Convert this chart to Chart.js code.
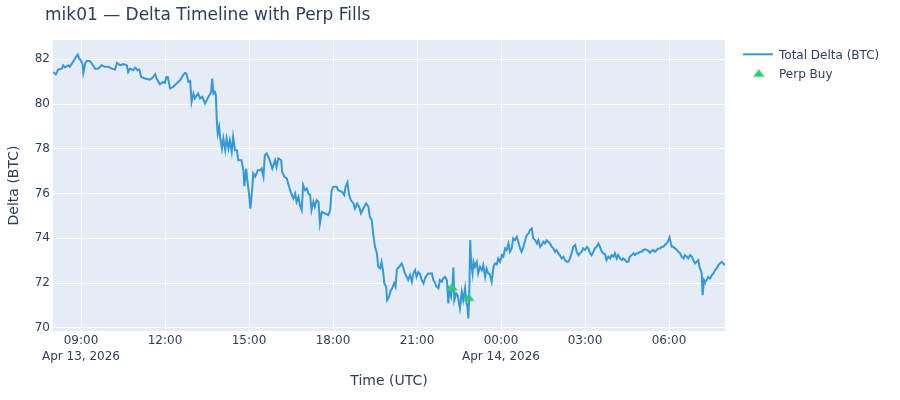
<!DOCTYPE html>
<html><head><meta charset="utf-8">
<script src="https://cdn.jsdelivr.net/npm/chart.js@4.4.1/dist/chart.umd.min.js"></script>
<style>html,body{margin:0;padding:0;background:#fff}#wrap{width:900px;height:400px}</style>
</head><body><div id="wrap"><canvas id="c" width="900" height="400"></canvas></div>
<script>
const chartTitle = 'mik01 — Delta Timeline with Perp Fills';
const xAxisTitle = 'Time (UTC)';
const yAxisTitle = 'Delta (BTC)';
const seriesNames = ['Total Delta (BTC)', 'Perp Buy'];
// x values: minutes since Apr 13, 2026 00:00 UTC
const xTickValues = [540, 720, 900, 1080, 1260, 1440, 1620, 1800];
const xTickLabels = [['09:00', 'Apr 13, 2026'], '12:00', '15:00', '18:00', '21:00', ['00:00', 'Apr 14, 2026'], '03:00', '06:00'];
const yTickValues = [70, 72, 74, 76, 78, 80, 82];

const timeMin = [
480,486,491,499,502,506,513,516,524,529,533,536,539,543,545,549,552,559,563,570,577,584,591,599,606,613,617,624,631,638,641,645,652,656,661,665,669,677,688,695,699,702,709,716,720,723,726,
731,738,745,752,759,763,766,770,774,777,781,784,791,795,800,806,813,819,821,824,827,829,831,833,836,838,842,845,849,852,856,859,863,866,870,874,877,884,888,890,894,896,900,903,907,909,913,919,924,927,931,934,938,943,950,956,959,963,969,971,976,
981,984,988,992,995,999,1002,1006,1009,1013,1016,1020,1024,1027,1031,1034,1038,1041,1045,1049,1052,1056,1063,1070,1074,1077,1081,1088,1091,1099,1104,1107,1111,1114,1118,1124,1127,1132,1136,1140,1145,1151,1156,1159,1163,1166,1170,1174,1177,1181,1184,1187,1190,1194,1196,1200,1204,1207,1211,1214,1217,1222,
1227,1231,1234,1238,1241,1245,1249,1252,1256,1259,1263,1266,1270,1274,1277,1281,1284,1292,1295,1299,1302,1306,1309,1313,1316,1320,1324,1327,1329,1333,1336,1338,1340,1344,1347,1352,1356,1359,1363,1365,1368,1370,1372,1374,1376,1379,1381,1384,1388,1391,1395,1399,1402,1406,1409,1413,1416,1420,1424,1427,
1431,1434,1438,1442,1445,1449,1452,1456,1459,1463,1466,1470,1474,1477,1481,1484,1488,1491,1495,1499,1502,1506,1509,1513,1517,1520,1524,1527,1531,1534,1538,1541,1545,1549,1552,1556,1559,1563,1566,1570,1574,1577,1581,1584,1588,1592,1595,1599,1602,1606,1609,1613,1616,1620,1624,1627,1631,1634,1638,1641,1645,1649,1652,1656,1659,1663,1666,1670,
1674,1677,1681,1684,1688,1691,1695,1699,1702,1706,1709,1713,1716,1720,1724,1727,1731,1734,1738,1742,1745,1749,1752,1756,1759,1763,1766,1770,1774,1777,1781,1784,1788,1791,1795,1799,1801,1804,1806,1809,1813,1817,1820,1824,1827,1831,1834,1838,1841,1845,1849,1852,1856,1859,1863,1865,1868,1870,1872,1875,1877,1881,1884,1888,1892,1895,1899,1902,1906,1909,1913,1916,1920
];
const deltaBtc = [
81.43,81.32,81.54,81.58,81.73,81.63,81.73,81.66,81.92,82.10,82.21,82.03,81.96,81.81,81.39,81.81,81.92,81.92,81.81,81.58,81.58,81.73,81.66,81.66,81.58,81.54,81.84,81.73,81.78,81.73,81.43,81.58,81.51,81.63,81.51,81.54,81.21,81.14,81.09,81.21,81.33,81.14,80.88,80.99,80.94,81.21,81.21,
80.69,80.77,80.92,81.06,81.29,81.39,81.36,80.99,81.03,80.09,80.47,80.25,80.47,80.25,80.32,80.02,80.32,80.54,81.14,80.47,80.54,80.39,79.28,78.68,78.98,78.53,78.01,78.46,77.94,78.46,78.01,78.38,77.86,78.53,77.94,77.94,77.49,77.49,77.04,76.33,77.12,76.67,76.00,75.33,76.23,76.90,76.75,77.04,77.04,77.12,76.75,77.71,77.79,77.57,77.12,77.49,77.19,77.57,77.49,76.97,76.75,
76.67,76.45,76.15,75.93,75.78,76.00,75.63,75.85,75.48,75.26,76.38,76.15,76.23,76.00,75.93,75.26,75.63,75.41,75.71,75.63,74.67,75.18,75.11,75.04,75.26,76.15,76.30,76.30,76.15,76.08,75.93,76.30,76.50,76.00,75.71,75.56,75.33,75.56,75.41,75.11,75.33,75.56,75.41,74.96,74.81,74.22,73.62,73.33,72.73,72.66,72.95,72.58,71.99,71.84,71.24,71.39,71.69,71.77,71.99,71.84,72.62,72.73,
72.88,72.66,72.43,72.28,72.14,72.36,72.06,72.43,72.58,72.28,72.50,72.43,72.14,71.99,72.21,72.36,72.43,72.43,72.14,71.99,71.84,71.77,72.14,72.06,72.21,72.28,72.14,71.09,71.69,71.39,71.91,72.70,71.24,71.54,71.46,70.87,71.61,71.24,71.77,71.24,70.94,70.42,71.46,73.92,72.88,72.43,72.95,72.73,72.95,72.43,72.73,72.58,72.80,72.28,72.66,72.43,72.40,72.06,72.73,72.88,
72.83,73.10,72.95,73.25,73.18,73.55,73.48,73.77,73.40,73.55,74.00,73.92,74.07,73.85,73.55,73.40,73.62,73.85,74.14,74.22,74.37,74.44,74.00,73.92,73.77,73.92,73.62,73.70,73.85,73.77,73.92,73.85,73.77,73.62,73.55,73.40,73.48,73.33,73.25,73.10,73.18,73.03,72.95,72.95,73.10,73.40,73.62,73.70,73.40,73.25,73.33,73.40,73.55,73.48,73.62,73.55,73.33,73.25,73.40,73.55,73.62,73.77,73.62,73.40,73.33,73.30,73.03,73.18,
73.10,73.25,73.18,73.33,73.10,73.25,73.10,73.03,73.10,73.03,72.95,72.95,73.18,73.25,73.33,73.25,73.33,73.33,73.40,73.40,73.48,73.51,73.48,73.44,73.36,73.44,73.48,73.40,73.48,73.55,73.55,73.62,73.62,73.70,73.77,73.92,74.04,73.77,73.62,73.62,73.55,73.48,73.40,73.33,73.18,73.10,73.25,73.18,73.10,73.25,73.18,73.03,72.88,72.95,73.03,72.73,72.58,72.43,71.46,72.14,72.06,72.14,72.28,72.21,72.36,72.43,72.58,72.66,72.80,72.88,72.95,72.88,72.80
];
const perpTime = [1335, 1371];
const perpDelta = [71.79, 71.31];

const FONT = '"DejaVu Sans", Verdana, sans-serif';
const INK = '#2a3f5f';
const LINE_COLOR = '#3498db';
const PERP_COLOR = '#2ecc71';
Chart.defaults.font.family = FONT;
Chart.defaults.color = INK;

function makeTriangle() {
  const c = document.createElement('canvas');
  c.width = 12; c.height = 10;
  const g = c.getContext('2d');
  g.fillStyle = PERP_COLOR;
  g.beginPath();
  g.moveTo(0.2, 7.5); g.lineTo(11.8, 7.5); g.lineTo(6, 0); g.closePath();
  g.fill();
  return c;
}
const tri = makeTriangle();

const bgPlugin = {
  id: 'bg',
  beforeDraw(chart) {
    const { ctx, chartArea: a } = chart;
    ctx.save();
    ctx.fillStyle = '#E5ECF6';
    ctx.fillRect(a.left, a.top, a.right - a.left, a.bottom - a.top);
    ctx.restore();
  }
};
const decoPlugin = {
  id: 'deco',
  afterDraw(chart) {
    const ctx = chart.ctx;
    ctx.save();
    ctx.fillStyle = INK;
    ctx.textBaseline = 'alphabetic';
    ctx.textAlign = 'left';
    ctx.font = '17px ' + FONT;
    ctx.fillText(chartTitle, 45, 20);
    // legend
    ctx.strokeStyle = LINE_COLOR;
    ctx.lineWidth = 2;
    ctx.beginPath(); ctx.moveTo(743, 54.3); ctx.lineTo(773, 54.3); ctx.stroke();
    ctx.font = '12px ' + FONT;
    ctx.fillText(seriesNames[0], 779, 58.5);
    ctx.drawImage(tri, 752.8, 69.3);
    ctx.fillText(seriesNames[1], 779, 77.5);
    ctx.restore();
  }
};

new Chart(document.getElementById('c'), {
  type: 'line',
  data: {
    datasets: [
      {
        label: seriesNames[0],
        data: timeMin.map((t, i) => ({ x: t, y: deltaBtc[i] })),
        borderColor: LINE_COLOR,
        borderWidth: 2,
        pointRadius: 0,
        tension: 0,
        fill: false,
        order: 2
      },
      {
        label: seriesNames[1],
        type: 'scatter',
        data: perpTime.map((t, i) => ({ x: t, y: perpDelta[i] })),
        pointStyle: tri,
        pointRadius: 6,
        showLine: false,
        order: 1
      }
    ]
  },
  options: {
    responsive: false,
    animation: false,
    devicePixelRatio: 1,
    layout: { padding: { top: 40, right: 175, left: 0, bottom: 0 } },
    plugins: { legend: { display: false }, tooltip: { enabled: false }, title: { display: false } },
    scales: {
      x: {
        type: 'linear',
        min: 480,
        max: 1920,
        afterBuildTicks(s) { s.ticks = xTickValues.map(v => ({ value: v })); },
        afterFit(s) { s.height = 69; },
        grid: { color: '#ffffff', lineWidth: 1, drawTicks: false },
        border: { display: false },
        ticks: {
          autoSkip: false, maxRotation: 0, padding: 2,
          font: { size: 12, lineHeight: 1.3 }, color: INK,
          callback(v) { const i = xTickValues.indexOf(v); return i >= 0 ? xTickLabels[i] : ''; }
        },
        title: { display: true, text: xAxisTitle, font: { size: 14 }, color: INK, padding: { top: 0, bottom: 10 } }
      },
      y: {
        min: 69.86,
        max: 82.86,
        afterBuildTicks(s) { s.ticks = yTickValues.map(v => ({ value: v })); },
        afterFit(s) { s.width = 53; },
        grid: { color: '#ffffff', lineWidth: 1, drawTicks: false },
        border: { display: false },
        ticks: { padding: 3, font: { size: 12 }, color: INK, callback(v) { return String(v); } },
        title: { display: true, text: yAxisTitle, font: { size: 14 }, color: INK, padding: { top: 6, bottom: 0 } }
      }
    }
  },
  plugins: [bgPlugin, decoPlugin]
});
</script>
</body></html>
